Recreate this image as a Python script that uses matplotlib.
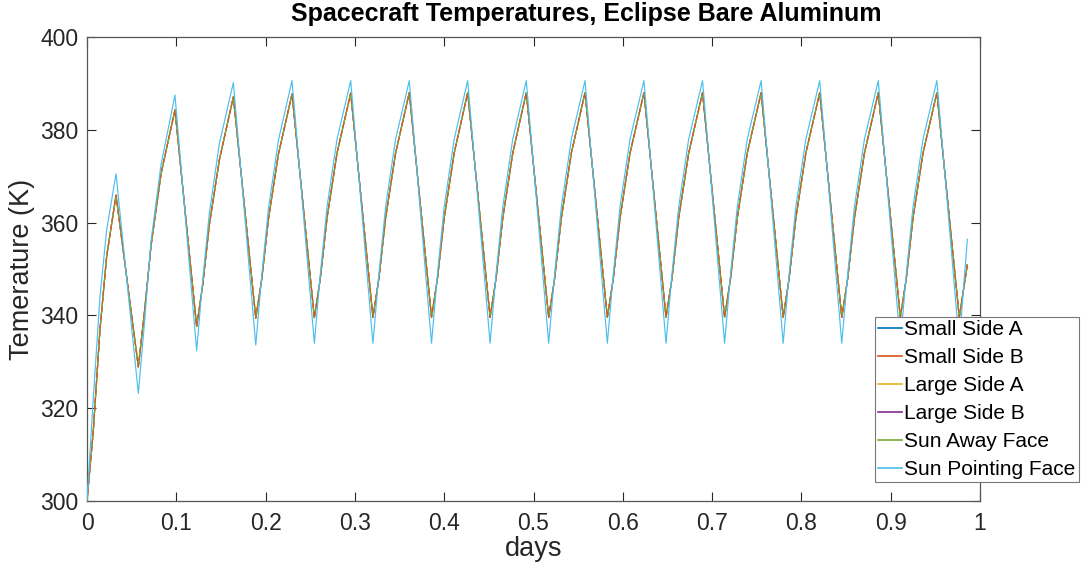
import matplotlib
matplotlib.use("Agg")
import matplotlib.pyplot as plt
from matplotlib.lines import Line2D

plt.rcParams['font.family'] = ['Liberation Sans', 'DejaVu Sans']

# time in days (troughs, points on the warming leg, peaks)
days = [0, 0.007, 0.0145, 0.022, 0.0325,
        0.0575, 0.0642, 0.0717, 0.0829, 0.0985,
        0.1228, 0.1295, 0.1370, 0.1482, 0.1639,
        0.1890, 0.1957, 0.2032, 0.2144, 0.2296,
        0.2546, 0.2613, 0.2688, 0.2800, 0.2953,
        0.3202, 0.3269, 0.3344, 0.3456, 0.3609,
        0.3858, 0.3925, 0.4000, 0.4112, 0.4263,
        0.4514, 0.4581, 0.4656, 0.4768, 0.4919,
        0.5170, 0.5237, 0.5312, 0.5424, 0.5577,
        0.5827, 0.5894, 0.5969, 0.6081, 0.6237,
        0.6484, 0.6551, 0.6626, 0.6738, 0.6893,
        0.7140, 0.7207, 0.7282, 0.7394, 0.7549,
        0.7796, 0.7863, 0.7938, 0.8050, 0.8205,
        0.8452, 0.8519, 0.8594, 0.8706, 0.8861,
        0.9108, 0.9175, 0.9250, 0.9362, 0.9517,
        0.9768, 0.9858]

# the four sides and the sun-away face sit almost on top of each other
side_temp = [300, 315, 336.9, 352.7, 365.9,
             328.9, 340.5, 355, 370.5, 384.3,
             337.6, 346.5, 359.5, 373.5, 387.1,
             339.4, 347.8, 360.8, 374.8, 387.7,
             339.5, 348, 361, 375, 387.9,
             339.6, 348, 361, 375, 388.0,
             339.6, 348, 361, 375, 388.0,
             339.6, 348, 361, 375, 388.0,
             339.6, 348, 361, 375, 388.0,
             339.6, 348, 361, 375, 388.0,
             339.6, 348, 361, 375, 388.0,
             339.6, 348, 361, 375, 388.0,
             339.6, 348, 361, 375, 388.0,
             339.6, 348, 361, 375, 388.0,
             339.6, 348, 361, 375, 388.0,
             339.6, 350.9]

sun_face_temp = [300, 322, 344, 358.4, 370.5,
                 323.2, 338, 356, 372.5, 387.5,
                 332.4, 347.5, 362, 377, 390.2,
                 333.6, 348.6, 363, 377.8, 390.6,
                 334.0, 349, 363.4, 378, 390.6,
                 334.0, 349, 363.4, 378, 390.6,
                 334.0, 349, 363.4, 378, 390.6,
                 334.0, 349, 363.4, 378, 390.6,
                 334.0, 349, 363.4, 378, 390.6,
                 334.0, 349, 363.4, 378, 390.6,
                 334.0, 349, 363.4, 378, 390.6,
                 334.0, 349, 363.4, 378, 390.6,
                 334.0, 349, 363.4, 378, 390.6,
                 334.0, 349, 363.4, 378, 390.6,
                 334.0, 349, 363.4, 378, 390.6,
                 334.0, 356.4]

names = ["Small Side A", "Small Side B", "Large Side A", "Large Side B",
         "Sun Away Face", "Sun Pointing Face"]
colors = ["#0072BD", "#D95319", "#EDB120", "#7E2F8E", "#77AC30", "#4DBEEE"]
series = [side_temp, side_temp, side_temp, side_temp, side_temp, sun_face_temp]

fig = plt.figure(figsize=(10.87, 5.73), dpi=100)
ax = fig.add_axes([87 / 1087, 72 / 573, 893 / 1087, 464 / 573])

# overlapping lines: let orange show as dashes over the light ones
styles = ["-", (0, (4, 3)), "-", "-", (3.5, (4, 3)), "-"]
zorders = [2, 4, 3, 2, 3, 5]
for temp, c, ls, z in zip(series, colors, styles, zorders):
    ax.plot(days, temp, color=c, lw=0.85, ls=ls, zorder=z)

ax.set_xlim(0, 1)
ax.set_ylim(300, 400)
ax.set_xticks([0, 0.1, 0.2, 0.3, 0.4, 0.5, 0.6, 0.7, 0.8, 0.9, 1])
ax.set_xticklabels(["0", "0.1", "0.2", "0.3", "0.4", "0.5", "0.6", "0.7", "0.8", "0.9", "1"])
ax.set_yticks([300, 320, 340, 360, 380, 400])
ax.tick_params(direction='in', length=6.5, width=0.8, colors='#262626',
               labelsize=16.5, top=True, right=True)
ax.tick_params(axis='x', pad=8)
ax.tick_params(axis='y', pad=6)
for s in ax.spines.values():
    s.set_color('#555555')
    s.set_linewidth(0.9)

fig.text(586 / 1087, 1 - 14 / 573, "Spacecraft Temperatures, Eclipse Bare Aluminum",
         fontsize=18, fontweight='bold', ha='center', va='center')
ax.set_xlabel("days", fontsize=19.5, color='#262626', labelpad=1)
ax.set_ylabel("Temerature (K)", fontsize=19.5, color='#262626', labelpad=4)

handles = [Line2D([], [], color=c, lw=1.2) for c in colors]
leg = fig.legend(handles, names, loc='upper left',
                 bbox_to_anchor=(875 / 1087, 1 - 317 / 573),
                 fontsize=15, frameon=True, fancybox=False, framealpha=1,
                 edgecolor='#777777', borderpad=0.15, labelspacing=0.43,
                 handlelength=1.15, handletextpad=0.1, borderaxespad=0)
leg.get_frame().set_linewidth(0.8)

fig.savefig("out.png", dpi=100)
